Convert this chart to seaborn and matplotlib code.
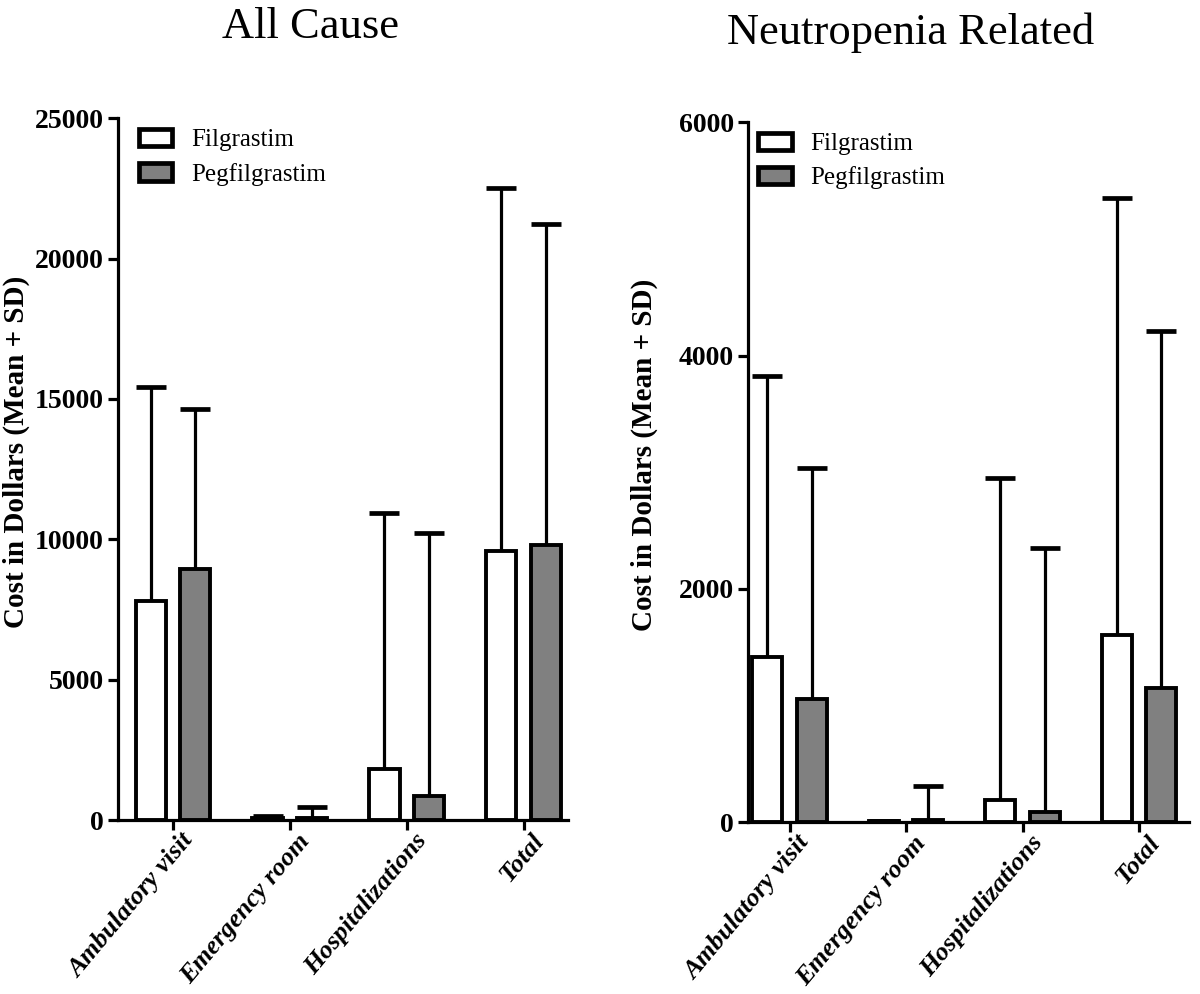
import pandas as pd
import matplotlib
matplotlib.use('Agg')
import matplotlib.pyplot as plt
import matplotlib.transforms as mtransforms
import seaborn as sns

# data
categories = ['Ambulatory visit', 'Emergency room', 'Hospitalizations', 'Total']
drugs = ['Filgrastim', 'Pegfilgrastim']

all_fil_mean = [7800, 60, 1810, 9580]
all_fil_sd = [7630, 70, 9120, 12940]
all_peg_mean = [8960, 60, 850, 9790]
all_peg_sd = [5680, 400, 9370, 11430]

nr_fil_mean = [1414, 5, 185, 1603]
nr_fil_sd = [2409, 0, 2765, 3747]
nr_peg_mean = [1054, 15, 86, 1150]
nr_peg_sd = [1980, 294, 2264, 3058]

sns.set_style('ticks')
plt.rcParams['font.family'] = ['Liberation Serif', 'DejaVu Serif']
plt.rcParams.update({
    'axes.linewidth': 2.3,
    'text.color': 'black',
    'axes.labelcolor': 'black',
    'axes.edgecolor': 'black',
    'xtick.color': 'black',
    'ytick.color': 'black',
})

LW = 2.3
colors = {'Filgrastim': 'white', 'Pegfilgrastim': '#808080'}


def make_df(fil_mean, fil_sd, peg_mean, peg_sd):
    rows = []
    for i, c in enumerate(categories):
        rows.append({'category': c, 'drug': 'Filgrastim', 'cost': fil_mean[i], 'sd': fil_sd[i]})
        rows.append({'category': c, 'drug': 'Pegfilgrastim', 'cost': peg_mean[i], 'sd': peg_sd[i]})
    return pd.DataFrame(rows)


def draw_panel(ax, df, ymax, yticks, xlim, title, title_x, title_y, ylab_x, leg_x):
    sns.barplot(data=df, x='category', y='cost', hue='drug', order=categories,
                hue_order=drugs, palette=colors, edgecolor='black', linewidth=2.8,
                width=0.76, gap=0.32, errorbar=None, ax=ax, zorder=3)

    # upward SD error bars, placed on the bars seaborn drew
    bars = [p for p in ax.patches if p.get_width() > 0][:len(df)]
    for p in bars:
        cx = p.get_x() + p.get_width() / 2
        ci = int(round(cx))
        d = drugs[0] if cx < ci else drugs[1]
        row = df[(df['category'] == categories[ci]) & (df['drug'] == d)].iloc[0]
        _, caps, _ = ax.errorbar(cx, row['cost'], yerr=[[0], [row['sd']]], fmt='none',
                                 ecolor='black', elinewidth=LW, capsize=11,
                                 capthick=3.4, zorder=2)
        caps[0].set_visible(False)

    ax.set_ylim(0, ymax)
    ax.set_yticks(yticks)
    ax.set_xlim(*xlim)
    sns.despine(ax=ax)
    ax.tick_params(axis='both', direction='out', length=7, width=LW, pad=3)
    for t in ax.get_yticklabels():
        t.set_fontweight('bold')
        t.set_fontsize(20)
    ax.set_xticks(range(len(categories)))
    ax.set_xticklabels(categories, rotation=50, ha='right', va='center',
                       rotation_mode='anchor', fontsize=19, fontweight='bold', fontstyle='italic')
    shift = mtransforms.ScaledTranslation(16 / 100, -3 / 100, ax.figure.dpi_scale_trans)
    for t in ax.get_xticklabels():
        t.set_transform(t.get_transform() + shift)
    ax.set_xlabel('')
    ax.set_ylabel('Cost in Dollars (Mean + SD)', fontsize=21, fontweight='bold')
    ax.yaxis.set_label_coords(ylab_x, 0.524)

    leg = ax.legend(loc='upper left', bbox_to_anchor=(leg_x, 1.01), frameon=False, fontsize=18,
                    handlelength=1.35, handleheight=0.7, handletextpad=0.75,
                    labelspacing=0.45, borderaxespad=0.3)
    for h in leg.legend_handles:
        h.set_edgecolor('black')
        h.set_linewidth(3.4)
    ax.figure.text(title_x, title_y, title, fontsize=32, ha='center', va='baseline')


fig = plt.figure(figsize=(12, 9.94), dpi=100)
ax1 = fig.add_axes([0.0983, 0.175, 0.375, 0.706])
ax2 = fig.add_axes([0.623, 0.173, 0.368, 0.704])

draw_panel(ax1, make_df(all_fil_mean, all_fil_sd, all_peg_mean, all_peg_sd),
           25000, [0, 5000, 10000, 15000, 20000, 25000], (-0.47, 3.38),
           'All Cause', 310 / 1200, 1 - 38 / 994, -0.195, 0.007)
draw_panel(ax2, make_df(nr_fil_mean, nr_fil_sd, nr_peg_mean, nr_peg_sd),
           6000, [0, 2000, 4000, 6000], (-0.36, 3.43),
           'Neutropenia Related', 911 / 1200, 1 - 44 / 994, -0.204, -0.016)

fig.savefig('out.png', dpi=100, facecolor='white')
plt.close(fig)
